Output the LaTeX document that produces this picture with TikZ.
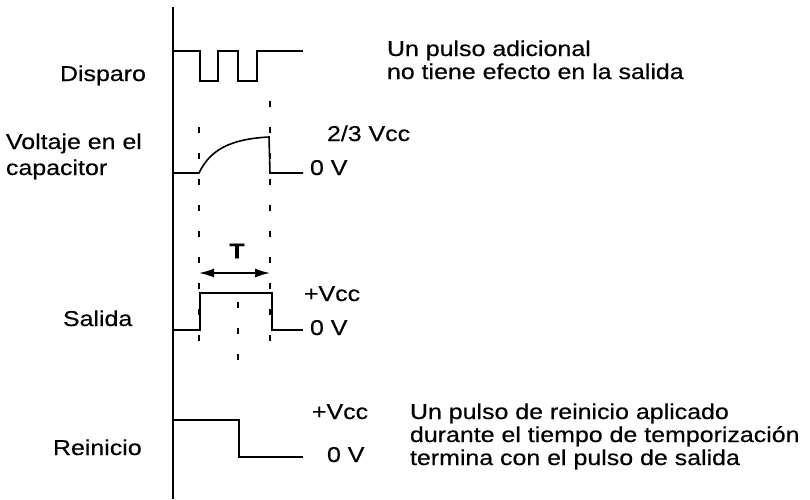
\documentclass[tikz,border=0pt]{standalone}
\usepackage{fontspec}
\setmainfont[FakeStretch=1.16,FakeBold=0.4]{Liberation Sans}
\usetikzlibrary{arrows.meta}
\begin{document}
\begin{tikzpicture}[x=1pt,y=-1pt,
  lbl/.style={anchor=base west,inner sep=0pt,outer sep=0pt,font=\fontsize{21.5}{25}\selectfont},
  trace/.style={line width=1.6pt,line join=miter},
  guide/.style={line width=1.6pt,dash pattern=on 6pt off 20pt},
  tarrow/.style={line width=1.6pt,{Latex[length=15pt,width=9pt]}-{Latex[length=15pt,width=9pt]}}]
\useasboundingbox (0,0) rectangle (810,499);
% axis
\draw[line width=1.8pt] (173,7) -- (173,499);
% trigger
\draw[trace] (173,51) -- (200,51) -- (200,81) -- (218,81) -- (218,51) -- (238,51) -- (238,81) -- (257,81) -- (257,51) -- (303,51);
% capacitor
\draw[trace] (173,173) -- (199,173) .. controls (210,150) and (230,139) .. (269,137) -- (270,173) -- (303,173);
% output
\draw[trace] (173,330) -- (200,330) -- (200,293) -- (272,293) -- (272,330) -- (303,330);
% reset
\draw[trace] (173,420) -- (239,420) -- (239,457) -- (303,457);
% guides
\coordinate (g1t) at (199,127); \coordinate (g1b) at (199,360);
\coordinate (g2t) at (270,101); \coordinate (g2b) at (270,360);
\coordinate (g3t) at (238,302); \coordinate (g3b) at (238,370);
\draw[guide] (g1t) -- (g1b);
\draw[guide] (g2t) -- (g2b);
\draw[guide] (g3t) -- (g3b);
\coordinate (ta) at (199,273); \coordinate (tb) at (270,273);
\draw[tarrow] (ta) -- (tb);
\node[font=\fontsize{21.5}{25}\selectfont\bfseries,inner sep=0pt] (T) at (237,251) {T};
% left labels
\node[lbl] (disparo) at (60,81) {Disparo};
\node[lbl] (volt1) at (6,149) {Voltaje en el};
\node[lbl] (volt2) at (6,175) {capacitor};
\node[lbl] (salida) at (63,326) {Salida};
\node[lbl] (reinicio) at (53,455) {Reinicio};
% right labels
\node[lbl] (n1a) at (387,56) {Un pulso adicional};
\node[lbl] (n1b) at (387,79) {no tiene efecto en la salida};
\node[lbl] (cv1) at (327,141) {2/3 Vcc};
\node[lbl] (cv0) at (310,175) {0 V};
\node[lbl] (sv1) at (304,301) {+Vcc};
\node[lbl] (sv0) at (310,335) {0 V};
\node[lbl] (rv1) at (312,419) {+Vcc};
\node[lbl] (rv0) at (327,462) {0 V};
\node[lbl] (n2a) at (410,419) {Un pulso de reinicio aplicado};
\node[lbl] (n2b) at (410,442) {durante el tiempo de temporización};
\node[lbl] (n2c) at (410,465) {termina con el pulso de salida};
\end{tikzpicture}
\end{document}
